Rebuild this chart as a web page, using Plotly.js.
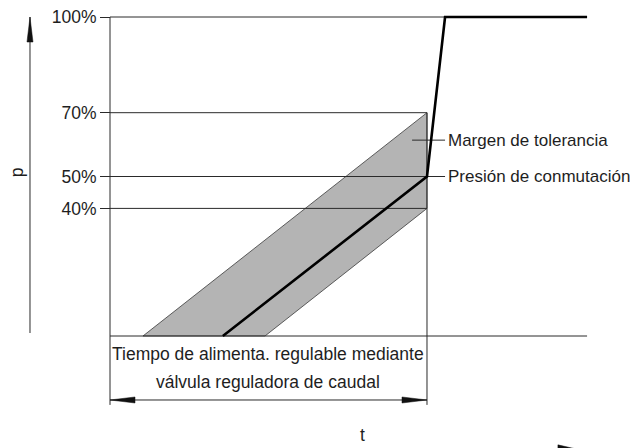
<!DOCTYPE html>
<html>
<head>
<meta charset="utf-8">
<script src="https://cdn.plot.ly/plotly-3.0.1.min.js"></script>
<style>html,body{margin:0;padding:0;background:#fff;}#chart{width:635px;height:448px;}</style>
</head>
<body>
<div id="chart"></div>
<script>
// ---- data (pressure in %, time in arbitrary units; switching instant = 100) ----
const pressureTicks = [40, 50, 70, 100];
const pressureTickLabels = ['40%', '50%', '70%', '100%'];
const switchTime = 100;
const riseEndTime = 105.7;
const endTime = 150.5;
const switchPressure = 50;
const toleranceUpper = 70;
const toleranceLower = 40;
const bandUpperT = [10.4, 100];
const bandUpperP = [0, 70];
const bandLowerT = [48.9, 100];
const bandLowerP = [0, 40];
const curveT = [35.6, 100, 105.7, 150.5];
const curveP = [0, 50, 100, 100];
const labelTolerance = 'Margen de tolerancia';
const labelSwitch = 'Presión de conmutación';
const labelTime1 = 'Tiempo de alimenta. regulable mediante';
const labelTime2 = 'válvula reguladora de caudal';

// ---- styling ----
const FONT = '"Liberation Sans", Arial, sans-serif';
const FS = 17.5;
const TXT = '#1e1e1e';
const THIN = {color: '#2a2a2a', width: 1};
const sx = 3.17, sy = 3.19;   // px per unit (for arrowhead sizes)
const dimP = -20.06, lowP = -21.6, tolP = 61.4;
const axisT = -25.24;

function line(x, y, l) {
  return {x: x, y: y, mode: 'lines', line: l || THIN, hoverinfo: 'skip', showlegend: false, type: 'scatter'};
}
function head(tipX, tipY, dx, dy, horizontal) {
  let xs, ys;
  if (horizontal) {
    const L = dx / sx, W = dy / sy;
    xs = [tipX, tipX + L, tipX + L, tipX];
    ys = [tipY, tipY + W, tipY - W, tipY];
  } else {
    const L = dy / sy, W = dx / sx;
    xs = [tipX, tipX + W, tipX - W, tipX];
    ys = [tipY, tipY - L, tipY - L, tipY];
  }
  return {x: xs, y: ys, mode: 'lines', fill: 'toself', fillcolor: '#111', line: {color: '#111', width: 0.5},
          hoverinfo: 'skip', showlegend: false, type: 'scatter'};
}

const traces = [];
// tolerance band
traces.push({x: [bandUpperT[0], bandUpperT[1], bandLowerT[1], bandLowerT[0], bandUpperT[0]],
             y: [bandUpperP[0], bandUpperP[1], bandLowerP[1], bandLowerP[0], bandUpperP[0]],
             mode: 'lines', fill: 'toself', fillcolor: '#b4b4b4', line: {color: '#3a3a3a', width: 0.8},
             hoverinfo: 'skip', showlegend: false, type: 'scatter'});
// reference lines
traces.push(line([0, riseEndTime], [100, 100]));
traces.push(line([0, switchTime], [toleranceUpper, toleranceUpper]));
traces.push(line([0, riseEndTime], [switchPressure, switchPressure]));
traces.push(line([0, switchTime], [toleranceLower, toleranceLower]));
traces.push(line([0, endTime], [0, 0]));
traces.push(line([0, 0], [100, lowP]));
traces.push(line([switchTime, switchTime], [toleranceUpper, lowP]));
// leader for tolerance label
traces.push(line([95.3, riseEndTime], [tolP, tolP]));
// dimension line with arrowheads
traces.push(line([0, switchTime], [dimP, dimP]));
traces.push(head(0, dimP, 25, 3, true));
traces.push(head(switchTime, dimP, -25, 3, true));
// p-axis arrow
traces.push(line([axisT, axisT], [100, 0.94]));
traces.push(head(axisT, 100, 3, 25, false));
// t-axis arrowhead (cut by the bottom edge)
traces.push({x: [149.2, 141.3, 141.3, 149.2], y: [-35.9, -34.13, -36.2, -35.9], mode: 'lines', fill: 'toself',
             fillcolor: '#111', line: {color: '#111', width: 0.5}, hoverinfo: 'skip', showlegend: false, type: 'scatter'});
// pressure curve
traces.push(line(curveT, curveP, {color: '#000', width: 2.6}));

function ann(x, y, text, xanchor, size, extra) {
  return Object.assign({x: x, y: y, text: text, showarrow: false, xanchor: xanchor, yanchor: 'middle',
                        font: {family: FONT, size: size, color: TXT}}, extra || {});
}

const layout = {
  width: 635, height: 448,
  margin: {l: 0, r: 0, t: 0, b: 0},
  paper_bgcolor: '#fff', plot_bgcolor: '#fff',
  showlegend: false,
  xaxis: {range: [-34.70, 165.62], visible: false, fixedrange: true},
  yaxis: {range: [-35.11, 105.33], anchor: 'free', position: 110 / 635,
          tickvals: pressureTicks, ticktext: pressureTickLabels,
          ticks: 'outside', ticklen: 10, tickwidth: 1, tickcolor: '#2a2a2a',
          showline: false, showgrid: false, zeroline: false, fixedrange: true,
          tickfont: {family: FONT, size: FS, color: TXT}},
  annotations: [
    ann(106, tolP, labelTolerance, 'left', 17),
    ann(106, switchPressure, labelSwitch, 'left', 17),
    ann(50, -5.64, labelTime1, 'center', FS),
    ann(50, -14.42, labelTime2, 'center', FS),
    ann(79.5, -31.03, 't', 'center', FS),
    ann(-29.3, 51.4, 'p', 'center', FS, {textangle: -90})
  ]
};

Plotly.newPlot('chart', traces, layout, {staticPlot: true, displayModeBar: false});
</script>
</body>
</html>
